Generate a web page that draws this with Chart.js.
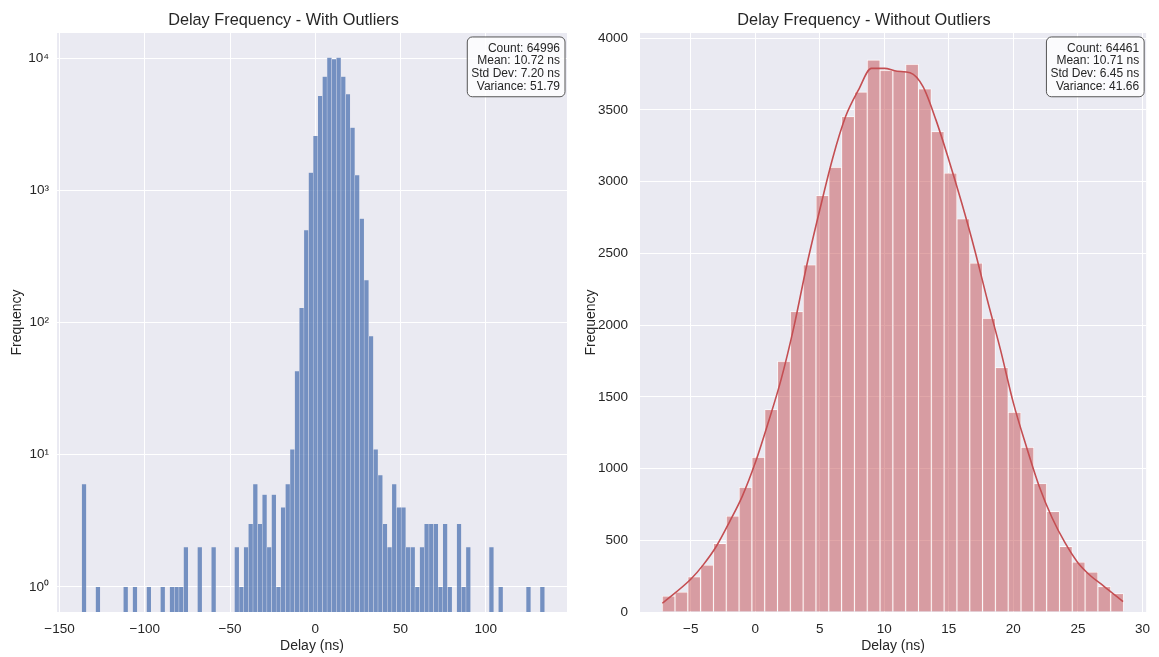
<!DOCTYPE html>
<html>
<head>
<meta charset="utf-8">
<script src="https://cdn.jsdelivr.net/npm/chart.js@4.4.1/dist/chart.umd.min.js"></script>
<style>
  html, body { margin: 0; padding: 0; background: #fff; }
  #wrap { position: relative; width: 1159px; height: 657px; }
  canvas { position: absolute; top: 0; }
</style>
</head>
<body>
<div id="wrap">
  <canvas id="left" width="580" height="657" style="left:0"></canvas>
  <canvas id="right" width="579" height="657" style="left:580px"></canvas>
</div>
<script>
// ---- left histogram (with outliers), 100 bins, log y ----
const leftBinStart = -137.0;
const leftBinWidth = 2.716;
const leftCounts = [
  6, 0, 0, 1, 0, 0, 0, 0, 0, 1,
  0, 1, 0, 0, 1, 0, 0, 1, 0, 1,
  1, 1, 2, 0, 0, 2, 0, 0, 2, 0,
  0, 0, 0, 2, 1, 2, 3, 6, 3, 5,
  2, 5, 1, 4, 6, 11, 43, 129, 500, 1362,
  2578, 5180, 7260, 10100, 9820, 10100, 7260, 5335, 2985, 1306,
  611, 209, 79, 11, 7, 3, 2, 6, 4, 4,
  2, 2, 1, 2, 3, 3, 3, 1, 3, 1,
  0, 3, 1, 2, 0, 0, 0, 0, 2, 0,
  1, 0, 0, 0, 0, 0, 1, 0, 0, 1
];
const leftXTicks = [-150, -100, -50, 0, 50, 100];
const leftLogTicks = [1, 10, 100, 1000, 10000];
const leftStats = ['Count: 64996', 'Mean: 10.72 ns', 'Std Dev: 7.20 ns', 'Variance: 51.79'];

// ---- right histogram (without outliers) + kde ----
const rightBinStart = -7.21;
const rightBinWidth = 0.993;
const rightCounts = [
  111, 139, 246, 327, 478, 669, 870, 1079, 1412, 1748,
  2095, 2421, 2904, 3101, 3454, 3626, 3849, 3777, 3777, 3819,
  3647, 3350, 3060, 2742, 2433, 2048, 1704, 1393, 1149, 896,
  701, 457, 348, 279, 177, 128
];
const kdeX = [-7.2, -5, -4, -3, -2, -1, 0, 1, 2, 3, 4, 5, 6, 7, 8, 9, 10, 11, 12, 13, 14, 15, 16, 17, 18, 19, 20, 21, 22, 23, 24, 25, 26, 27, 28.5];
const kdeY = [61, 228, 332, 460, 627, 808, 1040, 1319, 1620, 1990, 2421, 2804, 3164, 3454, 3640, 3790, 3790, 3770, 3760, 3663, 3431, 3152, 2851, 2526, 2170, 1829, 1458, 1156, 877, 657, 483, 344, 251, 181, 72];
const rightXTicks = [-5, 0, 5, 10, 15, 20, 25, 30];
const rightYTicks = [0, 500, 1000, 1500, 2000, 2500, 3000, 3500, 4000];
const rightStats = ['Count: 64461', 'Mean: 10.71 ns', 'Std Dev: 6.45 ns', 'Variance: 41.66'];

Chart.defaults.font.family = "'Liberation Sans', Arial, sans-serif";
Chart.defaults.color = '#262626';
Chart.defaults.animation = false;

const FACE = '#EAEAF2';

const plotBg = {
  id: 'plotBg',
  beforeDraw(chart) {
    const { ctx, chartArea: a } = chart;
    ctx.save();
    ctx.fillStyle = FACE;
    ctx.fillRect(a.left, a.top, a.right - a.left, a.bottom - a.top);
    ctx.restore();
  }
};

// stats box in the upper right corner of the plot
const statsBox = {
  id: 'statsBox',
  afterDraw(chart, args, opts) {
    const { ctx, chartArea: a } = chart;
    const lines = opts.lines || [];
    ctx.save();
    ctx.font = "12px 'Liberation Sans', Arial, sans-serif";
    const w = Math.max(...lines.map(l => ctx.measureText(l).width)) + 9;
    const lh = 12.7;
    const h = lines.length * lh + 9;
    const x = a.right - 2 - w, y = a.top + 4;
    ctx.beginPath();
    ctx.roundRect(x, y, w, h, 5);
    ctx.fillStyle = 'rgba(255,255,255,0.8)';
    ctx.fill();
    ctx.strokeStyle = '#555';
    ctx.lineWidth = 1;
    ctx.stroke();
    ctx.fillStyle = '#262626';
    ctx.textAlign = 'right';
    ctx.textBaseline = 'middle';
    lines.forEach((l, i) => ctx.fillText(l, x + w - 5, y + 5 + lh * (i + 0.5)));
    ctx.restore();
  }
};

const minus = v => String(v).replace('-', '\u2212');
const sup = { '0': '\u2070', '1': '\u00b9', '2': '\u00b2', '3': '\u00b3', '4': '\u2074' };
// fixed ticks and fixed range (configure() runs after this hook)
const setTicks = (arr, min, max) => s => {
  s.ticks = arr.map(v => ({ value: v }));
  s.min = min;
  s.max = max;
};

const gridOpts = { color: '#ffffff', lineWidth: 1, drawTicks: false };
const tickFont = { size: 13.5 };
const axisFont = { size: 14 };
const titleOpts = text => ({ display: true, text, font: { size: 16.3, weight: 'normal' }, padding: { top: 11, bottom: 2.4 }, color: '#262626' });

// left chart
const leftData = leftCounts.map((c, i) => ({ x: leftBinStart + leftBinWidth * (i + 0.5), y: c > 0 ? c : null }));

new Chart(document.getElementById('left'), {
  type: 'bar',
  data: {
    datasets: [{
      data: leftData,
      backgroundColor: 'rgba(76,114,176,0.75)',
      borderColor: 'rgba(234,234,242,0.55)',
      borderWidth: 0.5,
      borderSkipped: 'start',
      barPercentage: 1,
      categoryPercentage: 1
    }]
  },
  options: {
    responsive: false,
    layout: { padding: { left: 0, right: 13, top: 0, bottom: 0 } },
    plugins: {
      legend: { display: false },
      tooltip: { enabled: false },
      title: titleOpts('Delay Frequency - With Outliers'),
      statsBox: { lines: leftStats }
    },
    scales: {
      x: {
        type: 'linear', offset: false, min: -151.5, max: 147.7,
        grid: { ...gridOpts, offset: false },
        border: { display: false },
        afterBuildTicks: setTicks(leftXTicks, -151.5, 147.7),
        ticks: { autoSkip: false, padding: 9, font: tickFont, maxRotation: 0, callback: v => minus(v) },
        title: { display: true, text: 'Delay (ns)', font: axisFont, padding: { top: 0, bottom: 2 } },
        afterFit: s => { s.height = 45; }
      },
      y: {
        type: 'logarithmic', min: 0.646, max: 15500,
        grid: gridOpts,
        border: { display: false },
        afterBuildTicks: setTicks(leftLogTicks, 0.646, 15500),
        ticks: { autoSkip: false, padding: 8, font: tickFont, callback: v => '10' + sup[String(Math.round(Math.log10(v)))] },
        title: { display: true, text: 'Frequency', font: axisFont, padding: { top: 9, bottom: 0 } },
        afterFit: s => { s.width = 57; }
      }
    }
  },
  plugins: [plotBg, statsBox]
});

// right chart
const rightData = rightCounts.map((c, i) => ({ x: rightBinStart + rightBinWidth * (i + 0.5), y: c }));
const kdeData = kdeX.map((x, i) => ({ x, y: kdeY[i] }));

new Chart(document.getElementById('right'), {
  type: 'bar',
  data: {
    datasets: [{
      type: 'line',
      data: kdeData,
      borderColor: '#C44E52',
      borderWidth: 1.6,
      pointRadius: 0,
      cubicInterpolationMode: 'monotone',
      fill: false
    }, {
      data: rightData,
      backgroundColor: 'rgba(196,78,82,0.5)',
      borderColor: 'rgba(255,255,255,0.9)',
      borderWidth: 0.8,
      borderSkipped: 'start',
      barPercentage: 1,
      categoryPercentage: 1
    }]
  },
  options: {
    responsive: false,
    layout: { padding: { left: 0, right: 11, top: 0, bottom: 0 } },
    plugins: {
      legend: { display: false },
      tooltip: { enabled: false },
      title: titleOpts('Delay Frequency - Without Outliers'),
      statsBox: { lines: rightStats }
    },
    scales: {
      x: {
        type: 'linear', offset: false, min: -8.93, max: 30.29,
        grid: { ...gridOpts, offset: false },
        border: { display: false },
        afterBuildTicks: setTicks(rightXTicks, -8.93, 30.29),
        ticks: { autoSkip: false, padding: 9, font: tickFont, maxRotation: 0, callback: v => minus(v) },
        title: { display: true, text: 'Delay (ns)', font: axisFont, padding: { top: 0, bottom: 2 } },
        afterFit: s => { s.height = 45; }
      },
      y: {
        type: 'linear', min: 0, max: 4037,
        grid: gridOpts,
        border: { display: false },
        afterBuildTicks: setTicks(rightYTicks, 0, 4037),
        ticks: { autoSkip: false, padding: 12, font: tickFont, callback: v => String(v) },
        title: { display: true, text: 'Frequency', font: axisFont, padding: { top: 3, bottom: 0 } },
        afterFit: s => { s.width = 60; }
      }
    }
  },
  plugins: [plotBg, statsBox]
});
</script>
</body>
</html>
